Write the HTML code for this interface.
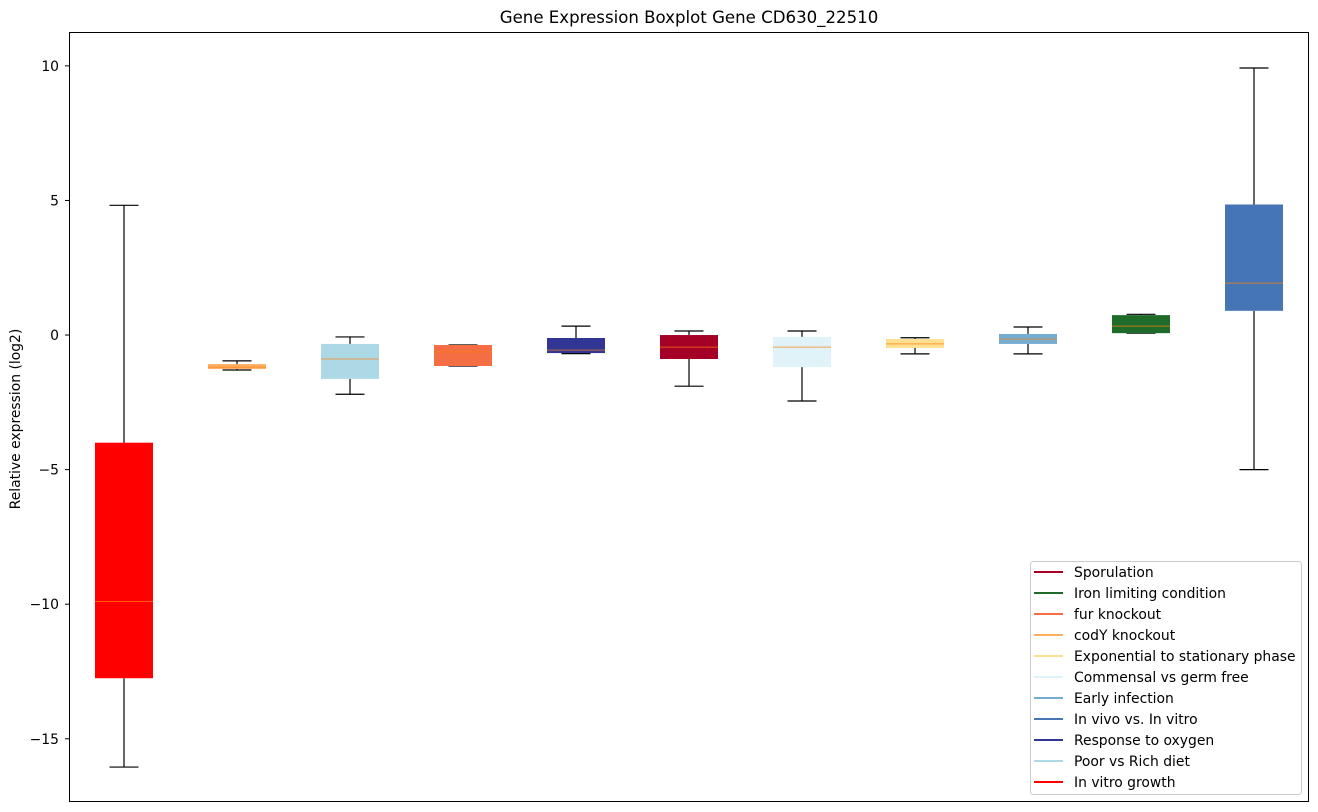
<!DOCTYPE html>
<html><head><meta charset="utf-8"><style>
html,body{margin:0;padding:0;background:#fff;}
svg{display:block;font-family:"DejaVu Sans","Liberation Sans",sans-serif;}
</style></head><body>
<svg id="chart" width="1318" height="812" xmlns="http://www.w3.org/2000/svg">
<text x="689" y="23" font-size="16.6" text-anchor="middle">Gene Expression Boxplot Gene CD630_22510</text>
<text transform="translate(20,419) rotate(-90)" font-size="13.9" text-anchor="middle">Relative expression (log2)</text>
<g id="marks"></g>
<g id="yticks"></g>
<rect x="69.5" y="32.5" width="1239" height="769" fill="none" stroke="#000" stroke-width="1"/>
<g id="legend"></g>
</svg>
<script>
const categories=["In vitro growth","codY knockout","Poor vs Rich diet","fur knockout","Response to oxygen","Sporulation","Commensal vs germ free","Exponential to stationary phase","Early infection","Iron limiting condition","In vivo vs. In vitro"];
const whiskerLow=[-16.05,-1.30,-2.2,-1.15,-0.69,-1.9,-2.45,-0.7,-0.7,0.07,-5.0];
const q1=[-12.75,-1.26,-1.63,-1.15,-0.67,-0.89,-1.19,-0.48,-0.33,0.07,0.9];
const medians=[-9.9,-1.19,-0.89,-0.63,-0.56,-0.45,-0.45,-0.33,-0.15,0.33,1.93];
const q3=[-4.0,-1.08,-0.33,-0.37,-0.11,0.0,-0.07,-0.15,0.04,0.74,4.85];
const whiskerHigh=[4.82,-0.96,-0.07,-0.37,0.33,0.15,0.15,-0.1,0.3,0.77,9.92];
const boxColors=["#ff0000","#fdae61","#add8e6","#f46d43","#313695","#a50026","#e0f3f8","#fee090","#74add1","#1f6b2a","#4575b4"];
const yTicks=[10,5,0,-5,-10,-15];
const legendLabels=["Sporulation","Iron limiting condition","fur knockout","codY knockout","Exponential to stationary phase","Commensal vs germ free","Early infection","In vivo vs. In vitro","Response to oxygen","Poor vs Rich diet","In vitro growth"];
const legendColors=["#a50026","#1f6b2a","#f46d43","#fdae61","#fee090","#e0f3f8","#74add1","#4575b4","#313695","#add8e6","#ff0000"];

const NS="http://www.w3.org/2000/svg";
const yMin=-17.33,yMax=11.24,plotTop=32.5,plotBottom=801.5;
const yScale=v=>plotBottom-(v-yMin)/(yMax-yMin)*(plotBottom-plotTop);
const xScale=i=>124+i*113;
function mk(tag,attrs,parent){const e=document.createElementNS(NS,tag);for(const k in attrs)e.setAttribute(k,attrs[k]);parent.appendChild(e);return e;}
const marks=document.getElementById('marks');
categories.forEach((c,i)=>{
  const g=mk('g',{},marks);
  
  
  const cx=xScale(i),w=58;
  mk('line',{x1:cx,x2:cx,y1:yScale(whiskerHigh[i]),y2:yScale(q3[i]),stroke:'#000','stroke-width':1.2},g);
  mk('line',{x1:cx,x2:cx,y1:yScale(q1[i]),y2:yScale(whiskerLow[i]),stroke:'#000','stroke-width':1.2},g);
  mk('line',{x1:cx-14.5,x2:cx+14.5,y1:yScale(whiskerHigh[i]),y2:yScale(whiskerHigh[i]),stroke:'#000','stroke-width':1.2},g);
  mk('line',{x1:cx-14.5,x2:cx+14.5,y1:yScale(whiskerLow[i]),y2:yScale(whiskerLow[i]),stroke:'#000','stroke-width':1.2},g);
  const h=Math.max(1,yScale(q1[i])-yScale(q3[i]));
  mk('rect',{x:cx-w/2,y:yScale(q3[i]),width:w,height:h,fill:boxColors[i]},g);
  mk('line',{x1:cx-w/2,x2:cx+w/2,y1:yScale(medians[i]),y2:yScale(medians[i]),stroke:'#ff7f0e','stroke-width':1,opacity:0.7},g);
});
const yt=document.getElementById('yticks');
yTicks.forEach(t=>{
  const g=mk('g',{},yt);
  
  
  mk('line',{x1:65,x2:69.5,y1:yScale(t),y2:yScale(t),stroke:'#000'},g);
  const tx=mk('text',{x:59,y:yScale(t)+5,'font-size':13.9,'text-anchor':'end'},g);
  tx.textContent=t<0?'\u2212'+Math.abs(t):String(t);
});
const lg=document.getElementById('legend');
mk('rect',{x:1030.5,y:561.5,width:271,height:233,rx:3,fill:'#fff',stroke:'#ccc'},lg);
legendLabels.forEach((l,i)=>{
  const g=mk('g',{},lg);
  
  
  const yy=572+i*21;
  mk('line',{x1:1034,x2:1063,y1:yy,y2:yy,stroke:legendColors[i],'stroke-width':2},g);
  const t=mk('text',{x:1074,y:yy+5,'font-size':13.9},g);
  t.textContent=l;
});
</script>
</body></html>
